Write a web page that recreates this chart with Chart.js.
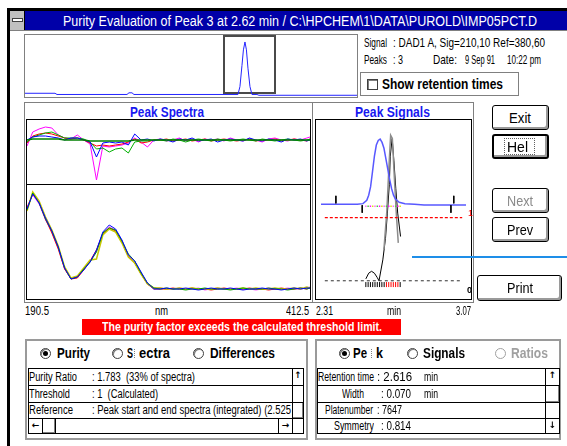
<!DOCTYPE html>
<html>
<head>
<meta charset="utf-8">
<script src="https://cdn.jsdelivr.net/npm/chart.js@4.4.1/dist/chart.umd.min.js"></script>
<style>
html,body{margin:0;padding:0;background:#fff;}
body{width:567px;height:446px;position:relative;overflow:hidden;
  font-family:"Liberation Sans Narrow","Arial Narrow","Liberation Sans",Arial,sans-serif;color:#000;}
.a{position:absolute;box-sizing:border-box;}
.t{position:absolute;white-space:nowrap;transform-origin:0 50%;line-height:1;}
.b{font-weight:bold;}
.btn{position:absolute;box-sizing:border-box;border:1px solid #000;border-radius:3px;background:#fff;
  box-shadow:inset -2px -2px 0 #9a9a9a;}
.radio{position:absolute;box-sizing:border-box;width:11px;height:11px;border-radius:50%;
  border:1px solid #404040;background:#fff;box-shadow:inset 1px 1px 0 #808080;}
.radio.on::after{content:"";position:absolute;left:2px;top:2px;width:5px;height:5px;border-radius:50%;background:#000;}
.cell{position:absolute;box-sizing:border-box;border:1px solid #000;background:#fff;
  font-family:"DejaVu Sans",sans-serif;font-size:9px;font-weight:bold;text-align:center;line-height:13px;}
.thumb{position:absolute;box-sizing:border-box;border:1px solid #000;background:#fff;
  box-shadow:inset -1px -1px 0 #808080;}
canvas{position:absolute;display:block;}
</style>
</head>
<body>
<!-- window frame and caption -->
<div class="a" style="left:7px;top:8px;width:560px;height:3px;background:#000"></div>
<div class="a" style="left:7px;top:8px;width:3px;height:438px;background:#000"></div>
<div class="a" style="left:10px;top:11px;width:557px;height:19px;background:#0000a8"></div>
<div class="a" style="left:10px;top:11px;width:15px;height:19px;background:#c0c0c0;border-right:1px solid #000"></div>
<div class="a" style="left:12px;top:18px;width:11px;height:4px;background:#fff;border:1px solid #404040"></div>
<div class="a" style="left:10px;top:30px;width:557px;height:1px;background:#808080"></div>
<div class="t" data-w="474" style="left:63px;top:14px;font-size:14px;color:#fff">Purity Evaluation of Peak 3 at 2.62 min / C:\HPCHEM\1\DATA\PUROLD\IMP05PCT.D</div>

<!-- chromatogram overview -->
<div class="a" style="left:24px;top:34px;width:334px;height:64px;border:1px solid #808080"></div>
<canvas id="overview" width="332" height="62" style="left:25px;top:35px"></canvas>

<!-- run information -->
<div class="t" data-w="23" style="left:364px;top:36px;font-size:13px">Signal</div>
<div class="t" data-w="152" style="left:393px;top:36px;font-size:13px">: DAD1 A, Sig=210,10 Ref=380,60</div>
<div class="t" data-w="23" style="left:364px;top:53px;font-size:13px">Peaks</div>
<div class="t" data-w="10" style="left:393px;top:53px;font-size:13px">: 3</div>
<div class="t" data-w="24" style="left:433px;top:53px;font-size:13px">Date:</div>
<div class="t" data-w="30" style="left:465px;top:53px;font-size:13px">9 Sep 91</div>
<div class="t" data-w="34" style="left:507px;top:53px;font-size:13px">10:22 pm</div>
<div class="a" style="left:360px;top:72px;width:159px;height:24px;border:1px solid #808080"></div>
<div class="a" style="left:367px;top:79px;width:11px;height:11px;border:1px solid #404040;box-shadow:inset 1px 1px 0 #808080"></div>
<div class="t b" data-w="121" style="left:382px;top:77px;font-size:14px">Show retention times</div>

<!-- spectra panel -->
<div class="a" style="left:24px;top:102px;width:289px;height:201px;border:1px solid #808080"></div>
<div class="t b" data-w="74" style="left:130px;top:105px;font-size:14px;color:#1818f0">Peak Spectra</div>
<div class="a" style="left:26px;top:119px;width:285px;height:181px;border:1px solid #000"></div>
<canvas id="specDiff" width="283" height="64" style="left:27px;top:120px"></canvas>
<div class="a" style="left:27px;top:184px;width:283px;height:1px;background:#000"></div>
<canvas id="specAbs" width="283" height="114" style="left:27px;top:185px"></canvas>

<!-- signals panel -->
<div class="a" style="left:312px;top:102px;width:162px;height:201px;border:1px solid #808080"></div>
<div class="t b" data-w="75" style="left:355px;top:105px;font-size:14px;color:#1818f0">Peak Signals</div>
<div class="a" style="left:315px;top:119px;width:157px;height:181px;border:1px solid #000"></div>
<canvas id="signals" width="155" height="179" style="left:316px;top:120px"></canvas>
<div class="t" style="left:468px;top:209px;font-size:9px;color:#ff0000">1</div>
<div class="t b" style="left:467px;top:286px;font-size:9px">0</div>

<!-- buttons -->
<div class="btn" style="left:492px;top:105px;width:57px;height:25px"></div>
<div class="t" data-w="22" style="left:509px;top:110px;font-size:15px">Exit</div>
<div class="btn" style="left:492px;top:134px;width:57px;height:25px;border-width:2px"></div>
<div class="a" style="left:504px;top:138px;width:31px;height:17px;border:1px dotted #606060"></div>
<div class="t" data-w="21" style="left:507px;top:139px;font-size:15px">Hel</div>
<div class="btn" style="left:492px;top:188px;width:57px;height:25px"></div>
<div class="t" data-w="26" style="left:507px;top:193px;font-size:15px;color:#8a8a8a">Next</div>
<div class="btn" style="left:492px;top:217px;width:57px;height:25px"></div>
<div class="t" data-w="26" style="left:507px;top:222px;font-size:15px">Prev</div>
<div class="btn" style="left:477px;top:275px;width:85px;height:26px"></div>
<div class="t" data-w="26" style="left:507px;top:280px;font-size:15px">Print</div>
<div class="a" style="left:412px;top:256px;width:155px;height:2px;background:#1e8ee8"></div>

<!-- axis range labels -->
<div class="t" data-w="24" style="left:25px;top:305px;font-size:12px">190.5</div>
<div class="t" data-w="13" style="left:155px;top:305px;font-size:12px">nm</div>
<div class="t" data-w="23" style="left:286px;top:305px;font-size:12px">412.5</div>
<div class="t" data-w="17" style="left:316px;top:305px;font-size:12px">2.31</div>
<div class="t" data-w="14" style="left:387px;top:305px;font-size:12px">min</div>
<div class="t" data-w="15" style="left:456px;top:305px;font-size:12px">3.07</div>

<!-- warning -->
<div class="a" style="left:82px;top:319px;width:319px;height:16px;background:#ff0000"></div>
<div class="t b" data-w="280" style="left:102px;top:320px;font-size:13px;color:#fff">The purity factor exceeds the calculated threshold limit.</div>

<!-- purity group -->
<div class="a" style="left:25px;top:339px;width:283px;height:101px;border:2px solid #9a9a9a"></div>
<div class="radio on" style="left:40px;top:348px"></div>
<div class="t b" data-w="33" style="left:57px;top:346px;font-size:14px">Purity</div>
<div class="radio" style="left:112px;top:348px"></div>
<div class="t b" data-w="6" style="left:127px;top:346px;font-size:14px">S</div>
<div class="a" style="left:134px;top:349px;width:1px;height:9px;border-left:1px dotted #808080"></div>
<div class="t b" data-w="31" style="left:139px;top:346px;font-size:14px">ectra</div>
<div class="radio" style="left:193px;top:348px"></div>
<div class="t b" data-w="65" style="left:210px;top:346px;font-size:14px">Differences</div>

<div class="a" style="left:28px;top:368px;width:276px;height:66px;border:1px solid #000"></div>
<div class="a" style="left:28px;top:385px;width:264px;height:1px;background:#000"></div>
<div class="a" style="left:28px;top:402px;width:264px;height:1px;background:#000"></div>
<div class="a" style="left:28px;top:418px;width:264px;height:1px;background:#000"></div>
<div class="t" data-w="48" style="left:29px;top:371px;font-size:12px">Purity Ratio</div>
<div class="t" data-w="103" style="left:92px;top:371px;font-size:12px">: 1.783&nbsp; (33% of spectra)</div>
<div class="t" data-w="41" style="left:29px;top:388px;font-size:12px">Threshold</div>
<div class="t" data-w="66" style="left:92px;top:388px;font-size:12px">: 1&nbsp; (Calculated)</div>
<div class="t" data-w="44" style="left:29px;top:404px;font-size:12px">Reference</div>
<div class="t" data-w="199" style="left:92px;top:404px;font-size:12px">: Peak start and end spectra (integrated) (2.525</div>
<div class="cell" style="left:292px;top:368px;width:12px;height:18px">↑</div>
<div class="a" style="left:292px;top:385px;width:12px;height:18px;border:1px solid #000"></div>
<div class="thumb" style="left:292px;top:402px;width:12px;height:17px"></div>
<div class="a" style="left:292px;top:418px;width:12px;height:16px;border:1px solid #000"></div>
<div class="cell" style="left:28px;top:418px;width:15px;height:16px">←</div>
<div class="thumb" style="left:42px;top:418px;width:14px;height:16px"></div>
<div class="cell" style="left:278px;top:418px;width:15px;height:16px">→</div>

<!-- peak group -->
<div class="a" style="left:315px;top:339px;width:246px;height:101px;border:2px solid #9a9a9a"></div>
<div class="radio on" style="left:339px;top:348px"></div>
<div class="t b" data-w="14" style="left:353px;top:346px;font-size:14px">Pe</div>
<div class="a" style="left:371px;top:349px;width:1px;height:9px;border-left:1px dotted #808080"></div>
<div class="t b" data-w="7" style="left:376px;top:346px;font-size:14px">k</div>
<div class="radio" style="left:407px;top:348px"></div>
<div class="t b" data-w="42" style="left:423px;top:346px;font-size:14px">Signals</div>
<div class="radio" style="left:495px;top:348px;border-color:#a0a0a0;box-shadow:none"></div>
<div class="t b" data-w="37" style="left:511px;top:346px;font-size:14px;color:#a0a0a0">Ratios</div>

<div class="a" style="left:317px;top:368px;width:243px;height:66px;border:1px solid #000"></div>
<div class="a" style="left:317px;top:385px;width:229px;height:1px;background:#000"></div>
<div class="a" style="left:317px;top:402px;width:229px;height:1px;background:#000"></div>
<div class="a" style="left:317px;top:418px;width:229px;height:1px;background:#000"></div>
<div class="t" data-w="56" style="left:318px;top:371px;font-size:12px">Retention time</div>
<div class="t" data-w="35" style="left:377px;top:371px;font-size:12px">: 2.616</div>
<div class="t" data-w="14" style="left:424px;top:371px;font-size:12px">min</div>
<div class="t" data-w="22" style="left:342px;top:388px;font-size:12px">Width</div>
<div class="t" data-w="30" style="left:381px;top:388px;font-size:12px">: 0.070</div>
<div class="t" data-w="14" style="left:424px;top:388px;font-size:12px">min</div>
<div class="t" data-w="48" style="left:325px;top:404px;font-size:12px">Platenumber</div>
<div class="t" data-w="25" style="left:377px;top:404px;font-size:12px">: 7647</div>
<div class="t" data-w="40" style="left:334px;top:420px;font-size:12px">Symmetry</div>
<div class="t" data-w="30" style="left:381px;top:420px;font-size:12px">: 0.814</div>
<div class="cell" style="left:545px;top:368px;width:15px;height:18px">↑</div>
<div class="thumb" style="left:545px;top:385px;width:15px;height:18px"></div>
<div class="a" style="left:545px;top:402px;width:15px;height:17px;border:1px solid #000"></div>
<div class="cell" style="left:545px;top:418px;width:15px;height:16px">↓</div>

<script>
// ---- chromatogram overview (time in min, signal in % of peak height) ----
const ovTime   = [-0.678, -0.228, -0.198, 0.851, 0.881, 0.926, 0.956, 2.515, 2.545, 2.575, 2.597, 2.62, 2.642, 2.665, 2.695, 2.725, 2.80, 2.83, 4.30];
const ovSignal = [2.3, 2.3, 0, 0, 3.2, 3.2, 0, 0, 15, 55, 85, 100, 85, 50, 15, 0, 0, -1.5, -1.5];
const zoomWindow = [2.31, 3.07];

// ---- spectra (nm) ----
const wavelengths = [190.5,195,200,205,210,215,220,225,230,235,240,245,250,255,260,265,270,275,280,285,290,
  295,300,305,310,315,320,325,330,335,340,345,350,355,360,365,370,375,380,385,390,395,400,405,410,412.5];

// difference spectra
const diffMagenta = [-0.06,0.08,0.11,0.13,0.12, 0.05,0.02,0.01,0.05,0.00, -0.04,-0.40,-0.06,-0.07,-0.06, -0.05,-0.03,0.02,-0.02,-0.07, 0.00,
  0.01,-0.01,0.00,0.02,-0.01, 0.01,-0.02,0.01,0.00,0.01, -0.01,0.02,0.00,-0.01,0.01, 0.00,-0.02,0.01,0.02,0.00, -0.01,0.01,0.00,0.02,0.03];
const diffRed = [-0.03,0.04,0.06,0.07,0.06, 0.04,0.02,0.01,0.02,0.00, -0.03,-0.06,-0.05,-0.06,-0.05, -0.04,-0.02,0.01,-0.03,-0.02, 0.00,
  0.00,0.01,-0.01,0.00,0.01, -0.01,0.00,0.01,-0.01,0.00, 0.01,0.00,-0.01,0.00,0.01, -0.01,0.00,0.00,0.01,-0.01, 0.00,0.01,0.00,-0.01,0.01];
const diffGreen = [-0.02,0.03,0.05,0.07,0.08, 0.05,0.02,0.02,0.02,0.01, -0.02,-0.09,-0.08,-0.12,-0.09, -0.08,-0.13,-0.02,-0.01,-0.01, 0.00,
  0.00,-0.01,0.01,0.00,-0.02, 0.00,0.01,0.00,-0.01,0.01, 0.00,-0.01,0.00,0.01,0.00, -0.01,0.01,0.00,-0.01,0.00, 0.01,0.00,-0.01,0.00,0.01];
const diffBlue = [0.00,0.03,0.04,0.04,0.03, 0.02,0.00,0.02,0.02,0.00, -0.02,-0.17,-0.03,-0.02,-0.03, -0.02,-0.05,0.06,0.00,0.01, -0.01,
  0.01,0.00,-0.02,0.01,0.00, 0.02,-0.01,0.00,0.01,-0.02, 0.00,0.01,0.00,-0.01,0.02, 0.00,-0.01,0.01,0.00,-0.02, 0.01,0.00,0.01,-0.01,0.00];
const diffOlive = [0.00,0.01,0.01,0.01,0.01, 0.01,0.00,0.00,0.00,0.00, -0.01,-0.01,-0.01,-0.01,-0.01, -0.01,-0.01,0.00,0.00,0.00, 0.00,
  0.00,0.00,0.00,0.00,0.00, 0.00,0.00,0.00,0.00,0.00, 0.00,0.00,0.00,0.00,0.00, 0.00,0.00,0.00,0.00,0.00, 0.00,0.00,0.00,0.00,0.00];

// normalised absorbance spectra across the peak
const specBlue = [0.80,0.95,0.86,0.71,0.58, 0.42,0.21,0.10,0.12,0.19, 0.27,0.39,0.57,0.64,0.60, 0.49,0.34,0.28,0.17,0.06, 0.00,
  0.00,0.01,0.00,0.00,0.01, 0.00,-0.01,0.00,0.01,0.00, 0.00,0.01,0.00,-0.01,0.00, 0.00,0.01,0.00,0.00,-0.01, 0.00,0.01,0.00,0.01,0.01];
const specMagenta = [0.82,0.94,0.85,0.69,0.57, 0.41,0.20,0.11,0.12,0.20, 0.28,0.38,0.56,0.62,0.59, 0.48,0.33,0.27,0.15,0.05, 0.01,
  0.01,0.00,0.00,0.01,0.00, 0.00,0.01,-0.01,0.00,0.01, 0.00,0.00,0.01,0.00,0.00, -0.01,0.00,0.01,0.00,0.00, 0.01,0.00,0.00,0.01,0.02];
const specRed = [0.81,0.95,0.87,0.70,0.56, 0.40,0.20,0.10,0.11,0.19, 0.28,0.39,0.55,0.61,0.58, 0.47,0.33,0.26,0.15,0.05, 0.00,
  0.00,0.00,0.01,0.00,0.00, 0.01,0.00,0.00,-0.01,0.00, 0.01,0.00,0.00,0.00,0.01, 0.00,0.00,-0.01,0.00,0.01, 0.00,0.00,0.01,0.00,0.01];
const specGreen = [0.79,0.96,0.86,0.70,0.58, 0.42,0.21,0.10,0.12,0.20, 0.27,0.37,0.56,0.61,0.59, 0.48,0.35,0.28,0.16,0.06, 0.01,
  0.00,0.01,0.00,0.00,-0.01, 0.00,0.00,0.01,0.00,0.00, 0.00,-0.01,0.00,0.01,0.00, 0.00,0.00,0.01,0.00,0.00, -0.01,0.00,0.01,0.00,0.01];
const specYellow = [0.78,0.97,0.88,0.72,0.59, 0.43,0.22,0.11,0.13,0.21, 0.29,0.30,0.54,0.60,0.57, 0.46,0.32,0.26,0.15,0.05, 0.01,
  0.01,0.00,0.00,0.01,0.00, 0.01,0.00,0.00,0.00,0.01, 0.00,0.00,0.00,0.01,0.00, 0.01,0.00,0.00,0.01,0.00, 0.00,0.01,0.00,0.02,0.01];

// ---- peak signals (min) ----
const sigTime = [2.31,2.35,2.40,2.45,2.50,2.53,2.55,2.56,2.57,2.58,2.59,2.60,2.61,2.62,2.63,2.64,2.65,2.66,2.67,2.68,2.69,2.70,2.72,2.75,2.80,2.85,2.90,3.00,3.07];
const sigAbs  = [0,0,0,0,0,1,6,14,27,50,74,91,98,100,95,86,70,54,38,24,14,8,3,1,0,-1,-1,-1,-1];
const ratioTime = [2.545,2.560,2.575,2.590,2.605,2.614,2.634,2.648,2.658,2.668,2.673,2.683,2.692,2.702,2.712,2.727];
const ratioVal  = [0.03,0.12,0.15,0.12,0.05,0.00,0.33,0.67,1.07,1.52,1.97,2.25,1.90,1.46,1.07,0.70];
const limitTime = [2.640,2.655,2.666,2.675,2.684,2.695,2.705,2.715];
const limitVal  = [0.50,1.10,1.80,2.30,2.25,1.60,1.05,0.60];
const specTimes = [2.545,2.557,2.569,2.581,2.593,2.605,2.617,2.629,2.641,2.653,2.665,2.677,2.689,2.701,2.713,2.725];
const peakMarks = [2.388, 3.006];
const baselineMarks = [2.526, 2.991];
const thresholdValue = 1;
const ratioAxisRange = [2.33, 3.05];

const pts = (xs, ys) => xs.map((x, i) => ({x, y: ys[i]}));

function opts(xMin, xMax, yScales) {
  const scales = {x: {type: 'linear', display: false, min: xMin, max: xMax}};
  Object.assign(scales, yScales);
  return {
    responsive: false, animation: false, devicePixelRatio: 1, events: [],
    layout: {padding: 0},
    plugins: {legend: {display: false}, tooltip: {enabled: false}},
    elements: {point: {radius: 0}, line: {borderWidth: 1, tension: 0}},
    scales
  };
}
const hid = (min, max) => ({type: 'linear', display: false, min, max});
const line = (data, color, extra) => Object.assign({data, borderColor: color, borderWidth: 1, pointRadius: 0, fill: false}, extra || {});

// frame showing the zoomed time window in the overview
const windowBox = {
  id: 'windowBox',
  beforeDatasetsDraw(chart) {
    const {ctx, scales: {x, y}, chartArea} = chart;
    const l = Math.round(x.getPixelForValue(zoomWindow[0])), r = Math.round(x.getPixelForValue(zoomWindow[1]));
    const t = chartArea.top + 1, b = Math.round(y.getPixelForValue(2));
    ctx.save();
    ctx.strokeStyle = '#4a4a4a';
    ctx.lineWidth = 2;
    ctx.strokeRect(l, t, r - l, b - t);
    ctx.restore();
  }
};

new Chart(document.getElementById('overview'), {
  type: 'line',
  data: {datasets: [line(pts(ovTime, ovSignal), '#2424ff')]},
  options: opts(-0.678, 4.30, {y: hid(-4.8, 113.3)}),
  plugins: [windowBox]
});

new Chart(document.getElementById('specDiff'), {
  type: 'line',
  data: {datasets: [
    line(pts(wavelengths, diffOlive), '#008000', {borderWidth: 1.5}),
    line(pts(wavelengths, diffBlue), '#0000ff'),
    line(pts(wavelengths, diffGreen), '#00b000'),
    line(pts(wavelengths, diffRed), '#ff0000'),
    line(pts(wavelengths, diffMagenta), '#ff00ff')
  ]},
  options: opts(190.5, 412.5, {y: hid(-0.44, 0.20)})
});

new Chart(document.getElementById('specAbs'), {
  type: 'line',
  data: {datasets: [
    line(pts(wavelengths, specBlue), '#0000ff'),
    line(pts(wavelengths, specGreen), '#00a000'),
    line(pts(wavelengths, specYellow), '#c8c800', {borderWidth: 1.5}),
    line(pts(wavelengths, specRed), '#ff0000'),
    line(pts(wavelengths, specMagenta), '#ff40ff')
  ]},
  options: opts(190.5, 412.5, {y: hid(-0.10, 1.04)})
});

const dotColors = ['#ff60ff', '#40d040', '#ff00ff', '#e0e000'];
const tickColors = specTimes.map((t, i) => (i >= 9 && i <= 14) ? '#ff0000' : '#000000');

new Chart(document.getElementById('signals'), {
  type: 'line',
  data: {datasets: [
    line([{x: ratioAxisRange[0], y: thresholdValue}, {x: ratioAxisRange[1], y: thresholdValue}], '#ff0000',
      {yAxisID: 'yr', borderWidth: 1.2, borderDash: [3, 2]}),
    line([{x: ratioAxisRange[0], y: 0}, {x: ratioAxisRange[1], y: 0}], '#303030',
      {yAxisID: 'yr', borderDash: [3, 3]}),
    line([{x: peakMarks[0], y: 13}, {x: peakMarks[0], y: 1.4}, {x: peakMarks[0] + 0.001, y: null},
          {x: peakMarks[1], y: 13}, {x: peakMarks[1], y: 1.4}], '#000', {yAxisID: 'ys'}),
    line([{x: baselineMarks[0], y: -1.4}, {x: baselineMarks[0], y: -13}, {x: baselineMarks[0] + 0.001, y: null},
          {x: baselineMarks[1], y: -1.4}, {x: baselineMarks[1], y: -13}], '#000', {yAxisID: 'ys'}),
    line(pts(sigTime, sigAbs), '#5858ff', {yAxisID: 'ys', borderWidth: 1.5}),
    {data: specTimes.map(t => ({x: t, y: -3})), yAxisID: 'ys', showLine: false, pointStyle: 'rect',
      pointRadius: 1, pointBorderWidth: 0, pointBackgroundColor: specTimes.map((t, i) => dotColors[i % 4])},
    {data: specTimes.map(t => ({x: t, y: -0.06})), yAxisID: 'yr', showLine: false, pointStyle: 'line',
      pointRotation: 90, pointRadius: 2.5, pointBorderWidth: 1, pointBorderColor: tickColors},
    line(pts(limitTime, limitVal), '#8c8c8c', {yAxisID: 'yr', borderWidth: 1.5}),
    line(pts(ratioTime, ratioVal), '#000000', {yAxisID: 'yr'})
  ]},
  options: opts(2.31, 3.07, {ys: hid(-137.7, 121.7), yr: hid(-0.209, 2.463)})
});

// fit each label to its column width
function fitText() {
  document.querySelectorAll('[data-w]').forEach(el => {
    el.style.transform = 'none';
    const w = el.getBoundingClientRect().width;
    if (w > 0) el.style.transform = 'scaleX(' + (parseFloat(el.dataset.w) / w) + ')';
  });
}
fitText();
if (document.fonts && document.fonts.ready) document.fonts.ready.then(fitText);
</script>
</body>
</html>
